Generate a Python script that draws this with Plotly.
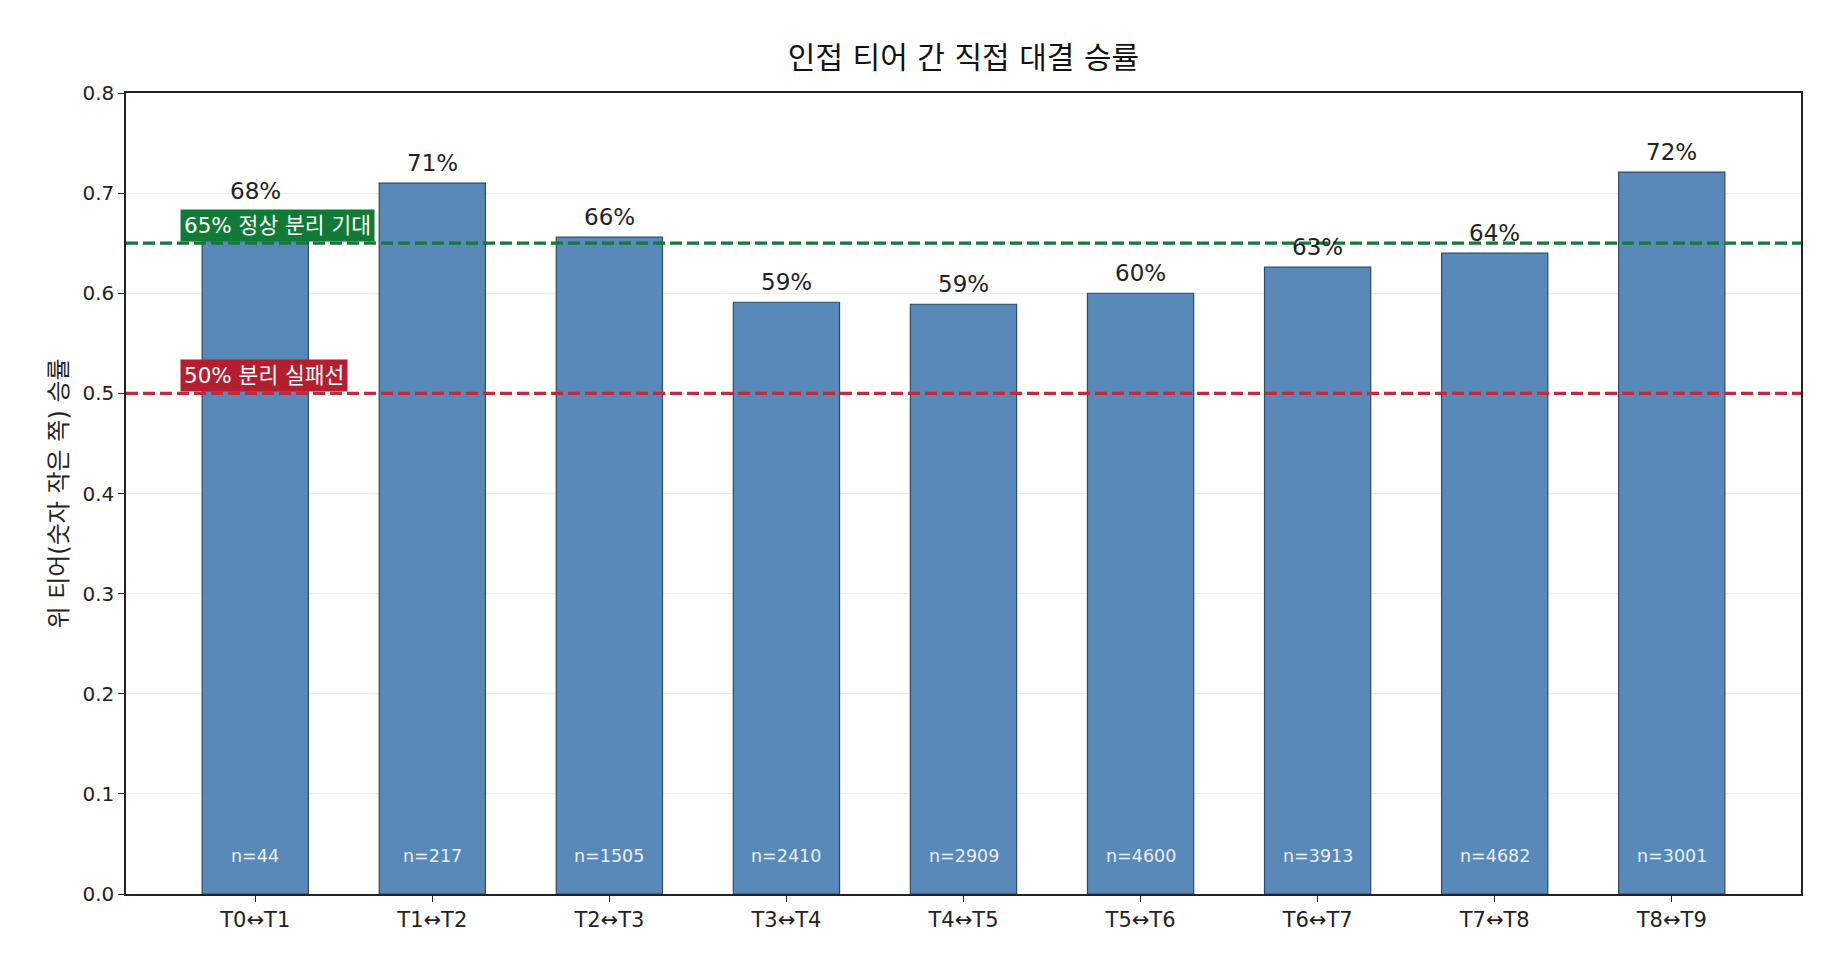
import plotly.graph_objects as go

categories = ["T0↔T1", "T1↔T2", "T2↔T3", "T3↔T4", "T4↔T5", "T5↔T6", "T6↔T7", "T7↔T8", "T8↔T9"]
win_rates = [0.682, 0.710, 0.656, 0.591, 0.589, 0.600, 0.626, 0.640, 0.721]
counts = [44, 217, 1505, 2410, 2909, 4600, 3913, 4682, 3001]
y_ticks = [0.0, 0.1, 0.2, 0.3, 0.4, 0.5, 0.6, 0.7, 0.8]
good_line = 0.65
fail_line = 0.50
good_label = "65% 정상 분리 기대"
fail_label = "50% 분리 실패선"
title_text = "인접 티어 간 직접 대결 승률"
y_title = "위 티어(숫자 작은 쪽) 승률"

FONT = "DejaVu Sans, Noto Sans CJK KR"
xs = list(range(len(categories)))

fig = go.Figure()
fig.add_trace(go.Bar(
    x=xs, y=win_rates, width=0.6,
    marker=dict(color="#5889b8", line=dict(color="#2d4b6b", width=1.2)),
    hoverinfo="skip",
))

ann = []
for x, v in zip(xs, win_rates):
    ann.append(dict(x=x, y=v, xref="x", yref="y", text=f"{round(v*100)}%",
                    showarrow=False, yanchor="bottom", yshift=5,
                    font=dict(family=FONT, size=23, color="#222222")))
for x, n in zip(xs, counts):
    ann.append(dict(x=x, y=0.038, xref="x", yref="y", text=f"n={n}",
                    showarrow=False, yanchor="middle",
                    font=dict(family=FONT, size=17.5, color="#e8eef5")))
ann.append(dict(x=-0.425, y=good_line, xref="x", yref="y", text=good_label,
                showarrow=False, xanchor="left", yanchor="bottom", yshift=1,
                bgcolor="#0f7b36", borderpad=3,
                font=dict(family=FONT, size=21.5, color="white")))
ann.append(dict(x=-0.425, y=fail_line, xref="x", yref="y", text=fail_label,
                showarrow=False, xanchor="left", yanchor="bottom", yshift=1,
                bgcolor="#b41f30", borderpad=3,
                font=dict(family=FONT, size=21.5, color="white")))
ann.append(dict(x=0, y=0.5, xref="paper", yref="paper", text=y_title,
                showarrow=False, textangle=-90, xshift=-84,
                font=dict(family=FONT, size=24, color="#222222")))

shapes = [
    dict(type="line", xref="paper", yref="y", x0=0, x1=1, y0=good_line, y1=good_line,
         line=dict(color="#137a37", width=3.3, dash="12px,5px"), layer="above"),
    dict(type="line", xref="paper", yref="y", x0=0, x1=1, y0=fail_line, y1=fail_line,
         line=dict(color="#c42a3c", width=3.3, dash="12px,5px"), layer="above"),
]

fig.update_layout(
    width=1846, height=975,
    margin=dict(l=126, r=45, t=93, b=81),
    paper_bgcolor="white", plot_bgcolor="white",
    showlegend=False,
    title=dict(text=title_text, x=(126 + 1801) / 2 / 1846, xanchor="center",
               y=1 - 57 / 975, yanchor="middle",
               font=dict(family=FONT, size=30, color="#111111")),
    annotations=ann, shapes=shapes,
    xaxis=dict(range=[-0.73, 8.73], tickvals=xs, ticktext=categories,
               showline=True, linecolor="#222222", linewidth=1.5, mirror=True,
               ticks="outside", ticklen=6, tickwidth=1.2, tickcolor="#222222",
               showgrid=False, zeroline=False,
               tickfont=dict(family=FONT, size=21, color="#222222")),
    yaxis=dict(range=[0, 0.8], tickvals=y_ticks, ticktext=[f"{t:.1f}" for t in y_ticks],
               showline=True, linecolor="#222222", linewidth=1.5, mirror=True,
               ticks="outside", ticklen=6, tickwidth=1.2, tickcolor="#222222",
               showgrid=True, gridcolor="rgba(200,200,200,0.35)", gridwidth=1.2,
               zeroline=False, layer="above traces",
               tickfont=dict(family=FONT, size=20, color="#222222")),
)

fig.write_html("out.html")
